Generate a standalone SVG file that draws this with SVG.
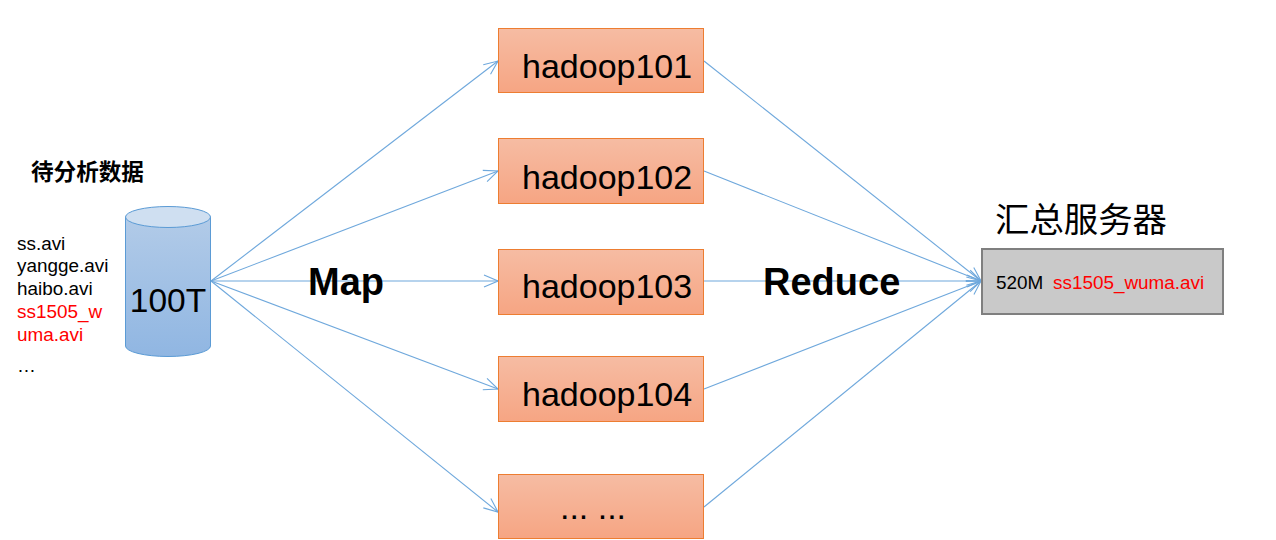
<svg xmlns="http://www.w3.org/2000/svg" width="1276" height="540" viewBox="0 0 1276 540">
<style>
text{font-family:"Liberation Sans","Noto Sans CJK SC",sans-serif;fill:#000}
.box{fill:url(#orange);stroke:#ed7d31;stroke-width:1}
.h{font-size:34px}
.f{font-size:18.900px}
.red{fill:#f00}
.c{fill:none;stroke:#6fa8dc;stroke-width:1.1;marker-end:url(#arr)}
</style>
<defs>
<linearGradient id="orange" x1="0" y1="0" x2="0" y2="1"><stop offset="0" stop-color="#f6bca3"/><stop offset="1" stop-color="#f6a583"/></linearGradient>
<linearGradient id="blue" x1="0" y1="0" x2="0" y2="1"><stop offset="0" stop-color="#b2cbe8"/><stop offset="1" stop-color="#90b6e2"/></linearGradient>
<marker id="arr" viewBox="0 0 16 14" refX="15" refY="7" markerWidth="16" markerHeight="14" markerUnits="userSpaceOnUse" orient="auto"><path d="M1 1L15 7L1 13" fill="none" stroke="#6fa8dc" stroke-width="1.1"/></marker>
</defs>
<rect width="1276" height="540" fill="#fff"/>
<g id="connectors">
<path class="c" d="M211 281L498 61"/>
<path class="c" d="M211 281L498 171"/>
<path class="c" d="M211 281L498 281"/>
<path class="c" d="M211 281L498 389"/>
<path class="c" d="M211 281L498 512"/>
<path class="c" d="M704 61L981 281"/>
<path class="c" d="M704 171L981 281"/>
<path class="c" d="M704 281L981 281"/>
<path class="c" d="M704 389L981 281"/>
<path class="c" d="M704 507L981 281"/>
</g>
<g id="source-label"><text x="31" y="180" font-size="22.600" font-weight="700">待分析数据</text></g>
<g id="file-list">
<text x="17" y="250" class="f">ss.avi</text>
<text x="17" y="272" class="f">yangge.avi</text>
<text x="17" y="295" class="f">haibo.avi</text>
<text x="17" y="318" class="f red">ss1505_w</text>
<text x="17" y="341" class="f red">uma.avi</text>
<text x="17" y="372" class="f">…</text>
</g>
<g id="cylinder">
<path d="M125.500 217V346A42.500 10.500 0 0 0 210.500 346V217Z" fill="url(#blue)" stroke="#5b9bd5"/>
<ellipse cx="168" cy="217" rx="42.500" ry="10.500" fill="#cfdff1" stroke="#5b9bd5"/>
<text x="168" y="312" font-size="33.500" text-anchor="middle">100T</text>
</g>
<g id="map-label"><text x="308" y="295" font-size="38" font-weight="700">Map</text></g>
<g id="reduce-label"><text x="763" y="295" font-size="38" font-weight="700">Reduce</text></g>
<g id="hadoop101"><rect class="box" x="498.500" y="28.500" width="205" height="64"/><text class="h" x="522" y="78">hadoop101</text></g>
<g id="hadoop102"><rect class="box" x="498.500" y="138.500" width="205" height="65"/><text class="h" x="522" y="189">hadoop102</text></g>
<g id="hadoop103"><rect class="box" x="498.500" y="249.500" width="205" height="65"/><text class="h" x="522" y="298">hadoop103</text></g>
<g id="hadoop104"><rect class="box" x="498.500" y="356.500" width="205" height="65"/><text class="h" x="522" y="406">hadoop104</text></g>
<g id="hadoop-more"><rect class="box" x="498.500" y="474.500" width="205" height="64"/><text class="h" x="593" y="519" text-anchor="middle">... ...</text></g>
<g id="server-label"><text x="995" y="232" font-size="34.400">汇总服务器</text></g>
<g id="server"><rect x="982" y="249" width="241" height="65" fill="#c9c9c9" stroke="#7f7f7f" stroke-width="2"/>
<text x="996" y="289" class="f">520M</text><text x="1053" y="289" class="f red">ss1505_wuma.avi</text></g>
</svg>
